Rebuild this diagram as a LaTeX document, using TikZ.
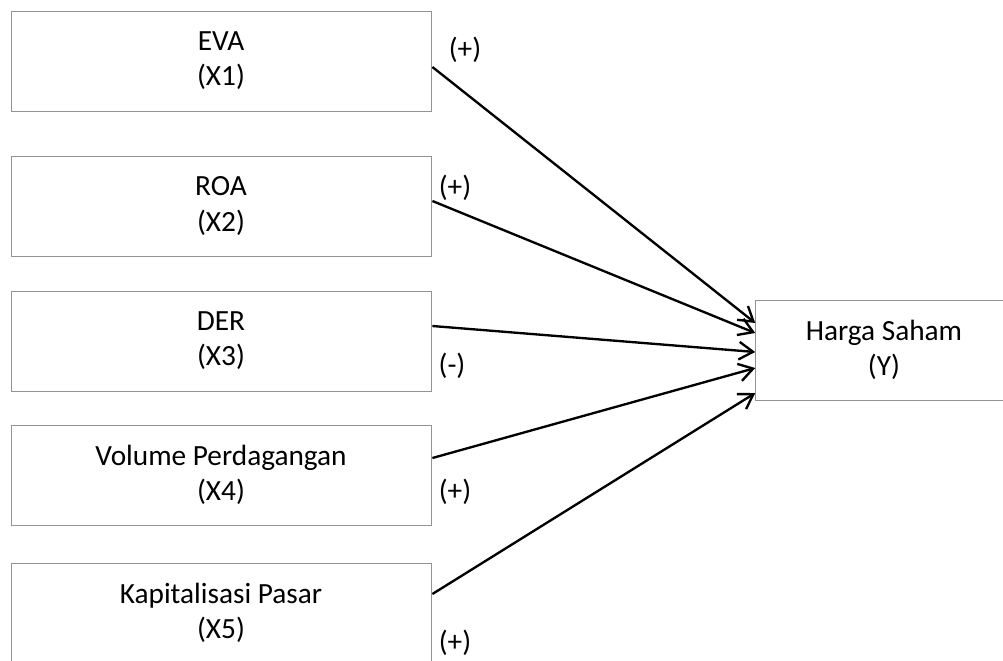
\documentclass[tikz,border=0pt]{standalone}
\usepackage{fontspec}
\setmainfont{Carlito}
\usetikzlibrary{calc, arrows.meta}
\tikzstyle{varbox} = [draw=gray!85, line width=0.7pt, minimum width=12.6cm, minimum height=3cm, inner sep=0pt, align=center, font=\fontsize{25}{30}\selectfont]
\tikzstyle{sign} = [inner sep=0pt, font=\fontsize{25}{30}\selectfont]
\tikzstyle{link} = [line width=2pt, -{Straight Barb[length=12pt, width=15pt, line width=2pt]}]

\begin{document}
\begin{tikzpicture}[x=0.03cm, y=-0.03cm]
 		\useasboundingbox (0,0) rectangle (1003,660);
 		\clip (0,0) rectangle (1003,660);
 		% independent variables
 		\node[varbox] (x1) at (221,61) {EVA\\ (X1)};
 		\node[varbox] (x2) at (221,206) {ROA\\ (X2)};
 		\node[varbox] (x3) at (221,341) {DER\\ (X3)};
 		\node[varbox] (x4) at (221,475) {Volume Perdagangan\\ (X4)};
 		\node[varbox] (x5) at (221,613) {Kapitalisasi Pasar\\ (X5)};
 		% dependent variable
 		\node[varbox, minimum width=7.7cm] (y) at (884,350) {Harga Saham\\ (Y)};
 		\node[sign] (s1) at (465,50) {(+)};
 		\node[sign] (s2) at (455,188) {(+)};
 		\node[sign] (s3) at (452,366) {(-)};
 		\node[sign] (s4) at (455,492) {(+)};
 		\node[sign] (s5) at (455,643) {(+)};
 		\draw[link] ($(x1.east)+(1,6)$) -- ($(y.west)+(0,-27)$);
 		\draw[link] ($(x2.east)+(1,-5)$) -- ($(y.west)+(0,-17)$);
 		\draw[link] ($(x3.east)+(1,-15)$) -- ($(y.west)+(0,2)$);
 		\draw[link] ($(x4.east)+(1,-17)$) -- ($(y.west)+(0,18)$);
 		\draw[link] ($(x5.east)+(1,-19)$) -- ($(y.west)+(0,43)$);
 	\end{tikzpicture}
\end{document}
